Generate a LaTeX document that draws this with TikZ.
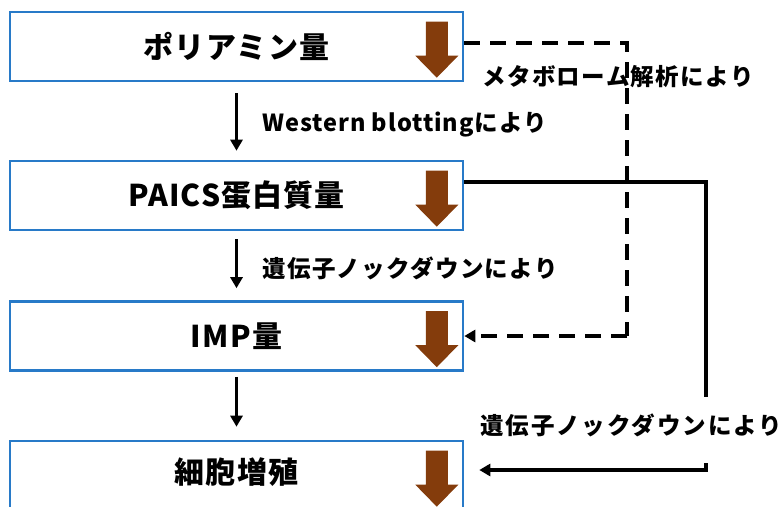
\documentclass[tikz,border=0pt]{standalone}
\usepackage{fontspec}
\setmainfont{Noto Sans CJK JP}
\newfontfamily\boxfont{Noto Sans CJK JP}[LetterSpace=4]
\newfontfamily\lblfont{Noto Sans CJK JP}[LetterSpace=6]
\newfontfamily\lblfontnarrow{Noto Sans CJK JP}[LetterSpace=4]
\newfontfamily\lblfontwide{Noto Sans CJK JP}[LetterSpace=8.5]
\usetikzlibrary{arrows.meta,calc}
\definecolor{boxblue}{RGB}{40,122,200}
\definecolor{downbrown}{RGB}{132,60,12}
\tikzset{
  stagebox/.style={draw=boxblue, line width=2.6pt, minimum width=453pt, minimum height=69pt, inner sep=0pt, font=\boxfont\fontsize{30}{33}\selectfont\bfseries},
  lbl/.style={anchor=west, inner sep=0pt, font=\lblfont\fontsize{23.5}{27}\selectfont\bfseries},
  flow/.style={line width=2.8pt, -{Triangle[length=11pt,width=12pt]}},
  link/.style={line width=3.2pt},
  dashlink/.style={line width=3.2pt, dash pattern=on 16pt off 10pt},
  downarrow/.pic={\fill[downbrown] (-11,0) -- (11,0) -- (11,34) -- (21.5,34) -- (0,56) -- (-21.5,34) -- (-11,34) -- cycle;}
}
\begin{document}
\begin{tikzpicture}[x=1pt,y=-1pt]
\useasboundingbox (0,0) rectangle (784,506);
\node[stagebox] (b1) at (236.5,46.5) {ポリアミン量};
\node[stagebox] (b2) at (236.5,195.5) {PAICS蛋白質量};
\node[stagebox] (b3) at (236.5,336) {IMP量};
\node[stagebox] (b4) at (236.5,475.5) {};
\node[font=\boxfont\fontsize{30}{33}\selectfont\bfseries] (t4) at (236.5,472) {細胞増殖};
\foreach \b in {b1,b2,b3,b4}{
  \pic at ([xshift=-27.5pt,yshift=-11pt]\b.north east) {downarrow};
}
\draw[flow, shorten <=11pt, shorten >=9pt] (b1.south) -- (b2.north);
\draw[flow, shorten <=8pt, shorten >=12pt] (b2.south) -- (b3.north);
\draw[flow, shorten <=5pt, shorten >=13pt] (b3.south) -- (b4.north);
\node[lbl, font=\lblfontnarrow\fontsize{23.5}{27}\selectfont\bfseries] (l1) at (262,125) {Western blottingにより};
\node[lbl] (l2) at (262,268) {遺伝子ノックダウンにより};
\node[lbl] (l3) at (482,77) {メタボローム解析により};
\node[lbl, font=\lblfontwide\fontsize{23.5}{27}\selectfont\bfseries] (l4) at (480,425) {遺伝子ノックダウンにより};
\coordinate (d1) at (627,43);
\coordinate (d2) at (627,336);
\draw[dashlink] ([yshift=3.5pt]b1.east) -- (d1) -- (d2);
\draw[dashlink, -{Triangle[length=11pt,width=12pt]}, dash pattern=on 16pt off 10pt] (d2) -- (b3.east);
\coordinate (s1) at (706,182);
\coordinate (s2) at (706,397);
\coordinate (s3) at (706,463);
\coordinate (s4) at (706,470);
\draw[link] ([yshift=13.5pt]b2.east) -- (s1) -- (s2);
\draw[link, -{Triangle[length=11pt,width=12pt]}, shorten >=15pt] (s3) -- (s4) -- ([yshift=5.5pt]b4.east);
\end{tikzpicture}
\end{document}
